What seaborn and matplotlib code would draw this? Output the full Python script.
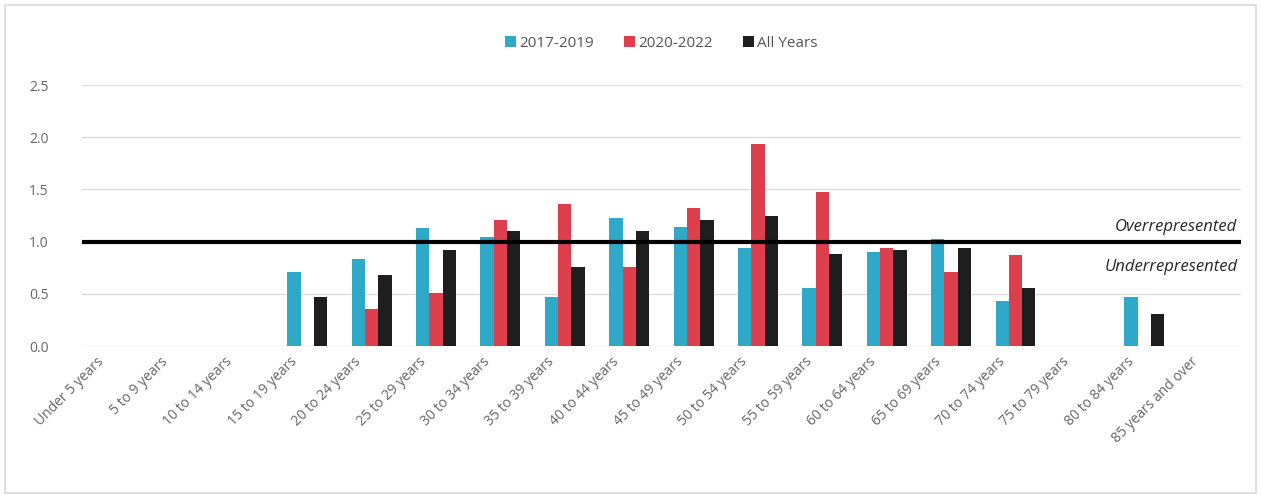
import pandas as pd
import matplotlib.pyplot as plt
import seaborn as sns
from matplotlib.patches import Rectangle
from matplotlib.transforms import ScaledTranslation

# age groups and ratios
age_groups = ["Under 5 years", "5 to 9 years", "10 to 14 years", "15 to 19 years",
              "20 to 24 years", "25 to 29 years", "30 to 34 years", "35 to 39 years",
              "40 to 44 years", "45 to 49 years", "50 to 54 years", "55 to 59 years",
              "60 to 64 years", "65 to 69 years", "70 to 74 years", "75 to 79 years",
              "80 to 84 years", "85 years and over"]
y2017_2019 = [0, 0, 0, 0.71, 0.83, 1.13, 1.04, 0.47, 1.23, 1.14, 0.94, 0.56,
              0.90, 1.03, 0.43, 0, 0.47, 0]
y2020_2022 = [0, 0, 0, 0, 0.35, 0.51, 1.21, 1.36, 0.76, 1.32, 1.94, 1.48,
              0.94, 0.71, 0.87, 0, 0, 0]
all_years = [0, 0, 0, 0.47, 0.68, 0.92, 1.10, 0.76, 1.10, 1.21, 1.25, 0.88,
             0.92, 0.94, 0.56, 0, 0.31, 0]
series = ["2017-2019", "2020-2022", "All Years"]
colors = ["#30a8c8", "#de3f4c", "#1e1e1e"]

df = pd.DataFrame({"age": age_groups * 3,
                   "period": [s for s in series for _ in age_groups],
                   "ratio": y2017_2019 + y2020_2022 + all_years})

sns.set_style("white")
plt.rcParams['font.family'] = ['Open Sans', 'DejaVu Sans']

fig = plt.figure(figsize=(12.61, 4.95), dpi=100)
ax = fig.add_axes([0.065, 0.301, 0.919, 0.527])

sns.barplot(data=df, x="age", y="ratio", hue="period", palette=colors,
            saturation=1, width=0.62, linewidth=0, ax=ax, zorder=2)

# reference line at 1.0
ax.axhline(1.0, color="black", lw=3, zorder=3)
ax.text(0.997, 1.06, "Overrepresented", style="italic", fontsize=12,
        ha="right", va="bottom", transform=ax.get_yaxis_transform())
ax.text(0.997, 0.76, "Underrepresented", style="italic", fontsize=12,
        ha="right", va="center", transform=ax.get_yaxis_transform())

ax.set_ylim(0, 2.5)
ax.set_xlim(-0.5, len(age_groups) - 0.5)
ax.set_yticks([0, 0.5, 1.0, 1.5, 2.0, 2.5])
ax.set_yticklabels(["0.0", "0.5", "1.0", "1.5", "2.0", "2.5"])
ax.yaxis.grid(True, color="#dddddd", lw=1, zorder=0)
ax.set_axisbelow(True)
ax.tick_params(axis="y", colors="#666666", labelsize=10, length=0, pad=24)
ax.tick_params(axis="x", colors="#666666", labelsize=10, length=0, pad=6)
shift = ScaledTranslation(-0.18, 0, fig.dpi_scale_trans)
for lab in ax.get_xticklabels():
    lab.set_rotation(45)
    lab.set_ha("right")
    lab.set_rotation_mode("anchor")
    lab.set_transform(lab.get_transform() + shift)
ax.set_xlabel("")
ax.set_ylabel("")
for sp in ax.spines.values():
    sp.set_visible(False)

leg = ax.legend(loc="lower center", bbox_to_anchor=(0.5, 1.08), ncol=3, frameon=False,
                fontsize=11, handlelength=0.7, handleheight=0.7, handletextpad=0.2,
                columnspacing=2.0)
for t in leg.get_texts():
    t.set_color("#555555")

# light frame around the chart
fig.patches.append(Rectangle((0.004, 0.004), 0.992, 0.985, transform=fig.transFigure,
                             fill=False, edgecolor="#d9d9d9", lw=1.2))

plt.savefig("out.png", dpi=100)
